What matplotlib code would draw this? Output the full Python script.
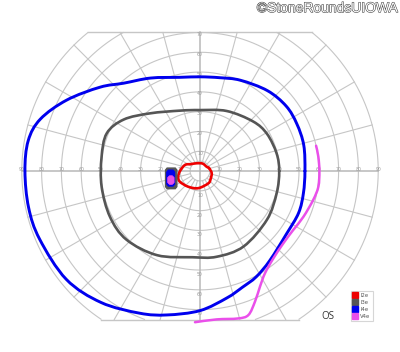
import numpy as np
import matplotlib
matplotlib.use('Agg')
import matplotlib.pyplot as plt
import matplotlib.patheffects as pe
from matplotlib.lines import Line2D
from matplotlib.path import Path
from matplotlib.patches import PathPatch

# isopters: meridian (deg, 0 = right, counter-clockwise) and eccentricity (deg)
i2e_ang = [18, 33, 71, 114, 142, 158, 180, 195, 208, 233, 264, 304, 323, 350]
i2e_ecc = [4.8, 4.0, 4.0, 4.3, 5.7, 8.2, 10.1, 11.4, 11.5, 9.9, 8.7, 7.5, 6.7, 6.0]

i3e_ang = [0, 13, 29, 43, 66, 90, 108, 131, 146, 158, 172, 189, 207, 223, 243, 265, 281, 300, 324, 344]
i3e_ecc = [40, 39.7, 38.7, 36.7, 33.2, 30.8, 32.1, 38.6, 46.5, 50.8, 50.2, 50.3, 51, 50.8, 47.7, 43.7, 44.1, 44, 41.8, 40.3]

i4e_ang = [0, 14, 26, 37, 50, 66, 78, 90, 102, 118, 131, 140, 152, 162, 170, 180,
           192, 203, 219, 233, 247, 257, 270, 282, 290, 298, 308, 324, 337, 348]
i4e_ecc = [53, 54.0, 54.4, 54.5, 53, 50.2, 48.2, 47.6, 48.4, 53.2, 58.8, 65.9, 76.3, 84.8, 88.1, 88.4,
           88.5, 88, 86.9, 83.1, 78, 74.6, 70.5, 65.5, 62.5, 60.5, 57.3, 54, 54.1, 53.4]

# V4e only tested on the right / lower right
v4e_ang = [12.3, 6.9, 0, 352.5, 345.7, 336.1, 327.7, 319.1, 310, 302.4, 297.4, 292.8, 288.6, 284.5, 276.4, 268.1]
v4e_ecc = [60, 60.2, 60.3, 60.3, 59, 57.1, 55.7, 55.7, 57.6, 61.2, 65.8, 71.6, 76.7, 76.9, 75.4, 76.4]

# blind spot outlines (x, y in deg)
bs_i3e_x = [-16.6, -12.5, -11.7, -11.7, -12.5, -16.6, -17.4, -17.4]
bs_i3e_y = [1.5, 1.5, 0.5, -7.9, -8.9, -8.9, -7.9, 0.5]
bs_i4e_x = [-16.0, -13.6, -12.8, -12.8, -13.6, -16.0, -16.8, -16.8]
bs_i4e_y = [0.5, 0.5, -0.5, -6.6, -7.6, -7.6, -6.6, -0.5]
bs_v4e_x = [-15.4, -14.0, -13.1, -13.1, -14.0, -15.4, -16.3, -16.3]
bs_v4e_y = [-2.4, -2.4, -3.3, -5.8, -6.7, -6.7, -5.8, -3.3]

labels = ['I2e', 'I3e', 'I4e', 'V4e']
colors = ['#ee0000', '#555555', '#0000ee', '#ea4fea']

rings = [5, 10, 20, 30, 40, 50, 60, 70, 80, 90]
top_cut, bot_cut = 70, 75
gcol = '#c6c6c6'


def polar_xy(ang, ecc):
    a = np.deg2rad(np.array(ang, dtype=float))
    e = np.array(ecc, dtype=float)
    return e * np.cos(a), e * np.sin(a)


def smooth_path(x, y, closed):
    # catmull-rom through the points, drawn as cubic bezier segments
    p = np.column_stack([x, y])
    n = len(p)
    if closed:
        ext = np.vstack([p[-1], p, p[0], p[1]])
        nseg = n
    else:
        ext = np.vstack([p[0], p, p[-1]])
        nseg = n - 1
    verts = [ext[1]]
    codes = [Path.MOVETO]
    for i in range(1, nseg + 1):
        p0, p1, p2, p3 = ext[i - 1], ext[i], ext[i + 1], ext[i + 2]
        verts += [p1 + (p2 - p0) / 6, p2 - (p3 - p1) / 6, p2]
        codes += [Path.CURVE4] * 3
    return Path(verts, codes)


def draw_isopter(ang, ecc, color, lw, closed=True):
    x, y = polar_xy(ang, ecc)
    patch = PathPatch(smooth_path(x, y, closed), fill=False, edgecolor=color, lw=lw,
                      capstyle='round', joinstyle='round', zorder=3)
    ax.add_patch(patch)


fig = plt.figure(figsize=(4, 3.52), dpi=100)
ax = fig.add_axes([0, 0, 1, 1])
ax.set_xlim(-101, 101)
ax.set_ylim(-91.4, 86.4)
ax.axis('off')

# grid
th = np.linspace(0, 2 * np.pi, 1441)
for r in rings:
    x, y = r * np.cos(th), r * np.sin(th)
    m = (y > top_cut) | (y < -bot_cut)
    x[m] = np.nan
    y[m] = np.nan
    ax.plot(x, y, color=gcol, lw=0.8, zorder=1)

for a in range(0, 360, 15):
    t = np.deg2rad(a)
    s = np.sin(t)
    r1 = 90
    if s > 1e-9:
        r1 = min(90, top_cut / s)
    elif s < -1e-9:
        r1 = min(90, bot_cut / -s)
    r0 = 0 if a % 90 == 0 else 5
    c = '#b8b8b8' if a % 90 == 0 else gcol
    w = 1.1 if a % 90 == 0 else 0.8
    ax.plot([r0 * np.cos(t), r1 * np.cos(t)], [r0 * np.sin(t), r1 * np.sin(t)], color=c, lw=w, zorder=1)

xt = np.sqrt(90 ** 2 - top_cut ** 2)
xb = np.sqrt(90 ** 2 - bot_cut ** 2)
ax.plot([-xt, xt], [top_cut, top_cut], color=gcol, lw=1.0, zorder=1)
ax.plot([-xb, xb], [-bot_cut, -bot_cut], color=gcol, lw=1.0, zorder=1)

tk = dict(fontsize=3.3, color='#9a9a9a', ha='center', va='center', zorder=2)
for r in range(10, 100, 10):
    ax.text(r, 0.8, str(r), **tk)
    ax.text(-r, 0.8, str(r), **tk)
for r in range(10, 80, 10):
    ax.text(0, r - 1.0, str(r), **tk)
    ax.text(0, -r - 2.2, str(r), **tk)

# isopters
draw_isopter(i4e_ang, i4e_ecc, colors[2], 2.1)
draw_isopter(i3e_ang, i3e_ecc, colors[1], 1.9)
draw_isopter(i2e_ang, i2e_ecc, colors[0], 1.9)
draw_isopter(v4e_ang, v4e_ecc, colors[3], 1.8, closed=False)

ax.fill(bs_i3e_x, bs_i3e_y, color=colors[1], lw=1.0, zorder=4)
ax.fill(bs_i4e_x, bs_i4e_y, color=colors[2], lw=0.8, zorder=5)
ax.fill(bs_v4e_x, bs_v4e_y, color=colors[3], lw=0.6, zorder=6)

handles = [Line2D([], [], marker='s', ls='', color=c, markersize=4.2) for c in colors]
leg = ax.legend(handles, labels, loc='lower right', bbox_to_anchor=(0.932, 0.089),
                bbox_transform=fig.transFigure, fontsize=3.8, frameon=True, fancybox=False,
                borderpad=0.4, handletextpad=0.6, labelspacing=0.35, handlelength=0.8,
                borderaxespad=0)
leg.get_frame().set_edgecolor('#cccccc')
leg.get_frame().set_linewidth(0.8)
for t in leg.get_texts():
    t.set_color('#555555')

fig.text(0.82, 0.102, 'OS', fontsize=7, color='#333333', ha='center', va='center', family='Open Sans')
fig.text(0.995, 0.977, '\u00a9StoneRoundsUIOWA', fontsize=10, family='Liberation Sans',
         color='white', ha='right', va='center',
         path_effects=[pe.withStroke(linewidth=0.8, foreground='#444444')])

fig.savefig('out.png', dpi=100)
